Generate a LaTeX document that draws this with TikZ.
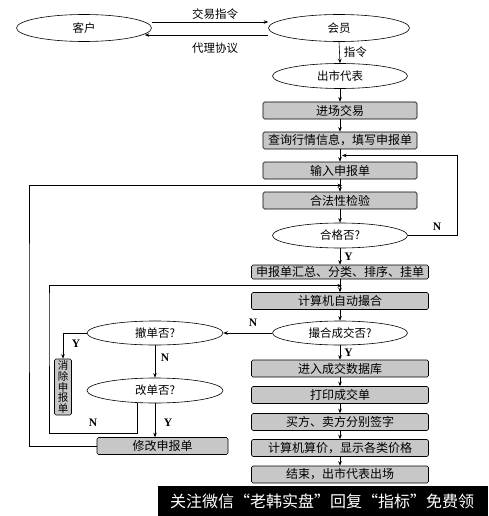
\documentclass[tikz,border=0pt]{standalone}
\usepackage{fontspec}
\setmainfont{Noto Sans CJK SC}
\newfontfamily\lat{Liberation Serif}
\usetikzlibrary{arrows.meta,calc,shapes.geometric}
\begin{document}
\begin{tikzpicture}[x=1pt,y=-1pt,
 arr/.style={-{Stealth[length=4.5pt,width=3.5pt]}, line width=0.6pt},
 ln/.style={line width=0.6pt},
 ell/.style={ellipse, draw, line width=0.6pt, fill=white, inner sep=0pt, minimum width=135pt, minimum height=25pt, font=\fontsize{11.5}{13}\selectfont},
 bx/.style={rectangle, draw, rounded corners=1.5pt, fill=black!22, line width=0.6pt, minimum height=17pt, inner sep=0pt, font=\fontsize{12}{14}\selectfont},
 bxa/.style={bx, minimum width=154pt},
 bxb/.style={bx, minimum width=177pt},
 yn/.style={font=\lat\bfseries\fontsize{11.5}{13}\selectfont, inner sep=0pt},
 lbl/.style={font=\fontsize{11.5}{13}\selectfont, inner sep=0pt}
]
\useasboundingbox (0,0) rectangle (488,516);
\fill[white] (0,0) rectangle (488,516);

% top ellipses
\node[ell, minimum height=27pt] (kehu) at (84,28) {客户};
\node[ell, minimum width=141pt, minimum height=27pt] (huiyuan) at (339,28) {会员};
\draw[arr] ([yshift=6pt]kehu.east) -- ([yshift=6pt]huiyuan.west);
\draw[arr] ([yshift=-7pt]huiyuan.west) -- ([yshift=-7pt,xshift=-7pt]kehu.east);
\node[lbl] (l1) at (215,14) {交易指令};
\node[lbl] (l2) at (215,48) {代理协议};

% main column
\node[ell] (chushi) at (340,76) {出市代表};
\node[bxa] (jinchang) at (340,110.5) {进场交易};
\node[bxa] (chaxun) at (340,140.5) {查询行情信息，填写申报单};
\node[bxa] (shuru) at (340,170.5) {输入申报单};
\node[bxa] (hefa) at (340,200.5) {合法性检验};
\node[ell] (hege) at (340,235.5) {合格否?};
\node[bxb, minimum height=14pt] (huizong) at (340,272) {申报单汇总、分类、排序、挂单};
\node[bxb] (jisuan) at (340,301) {计算机自动撮合};
\node[ell, minimum height=24pt] (cuohe) at (340,333) {撮合成交否?};
\node[bxb] (jinru) at (340,368.5) {进入成交数据库};
\node[bxb] (dayin) at (340,395) {打印成交单};
\node[bxb] (maifang) at (340,422) {买方、卖方分别签字};
\node[bxb] (suanjia) at (340,448) {计算机算价，显示各类价格};
\node[bxb] (jieshu) at (340,474.5) {结束，出市代表出场};

% left column
\node[ell, minimum width=136pt, minimum height=24pt] (chedan) at (155,333) {撤单否?};
\node[ell, minimum width=136pt] (gaidan) at (155,390.5) {改单否?};
\node[bx, minimum width=17pt, minimum height=56pt, font=\fontsize{10.5}{10.8}\selectfont, align=center] (xiaochu) at (63,387) {消\\除\\申\\报\\单};
\node[bx, minimum width=131pt] (xiugai) at (162.5,446) {修改申报单};

% main arrows
\draw[arr] (huiyuan.south) -- (chushi.north) node[lbl, midway, right=4pt] (l3) {指令};
\draw[arr] (chushi) -- (jinchang);
\draw[arr] (jinchang) -- (chaxun);
\draw[arr] (chaxun) -- (shuru);
\draw[arr] (shuru) -- (hefa);
\draw[arr] (hefa) -- (hege);
\draw[arr] (hege) -- (huizong) node[yn, midway, right=4pt] (y1) {Y};
\draw[arr] (huizong) -- (jisuan);
\draw[arr] (jisuan) -- (cuohe);
\draw[arr] (cuohe) -- (jinru) node[yn, midway, right=4pt] (y2) {Y};
\draw[arr] (jinru) -- (dayin);
\draw[arr] (dayin) -- (maifang);
\draw[arr] (maifang) -- (suanjia);
\draw[arr] (suanjia) -- (jieshu);

% loops
\coordinate (m1) at ($(chaxun.south)!0.5!(shuru.north)$);
\coordinate (m2) at ($(shuru.south)!0.5!(hefa.north)$);
\coordinate (m3) at ($(huizong.south)!0.5!(jisuan.north)$);
\draw[arr] (hege.east) -- ++(49,0) |- ([xshift=2pt]m1);
\node[yn] (n1) at (437,227) {N};

\draw[arr] (cuohe.west) -- (chedan.east);
\node[yn] (n2) at (253,323) {N};
\draw[arr] (chedan.west) -| (xiaochu.north);
\node[yn] (y3) at (76,344) {Y};
\draw[arr] (chedan.south) -- (gaidan.north);
\node[yn] (n3) at (165,358) {N};
\draw[arr] (gaidan.south) -- (gaidan.south |- xiugai.north);
\node[yn] (y4) at (168,423) {Y};
\draw[arr] ([xshift=-18pt]gaidan.south) -- ++(0,30) -| (49,300) |- ([xshift=2pt]m3);
\node[yn] (n4) at (93,423) {N};
\draw[arr] (xiugai.west) -| (29,300) |- ([xshift=2pt]m2);

% watermark banner
\fill[black] (158,486) rectangle (488,516);
\node[text=white, font=\fontsize{16}{18}\selectfont, inner sep=0pt] (wm) at (322,501) {关注微信“老韩实盘”回复“指标”免费领};
\end{tikzpicture}
\end{document}
